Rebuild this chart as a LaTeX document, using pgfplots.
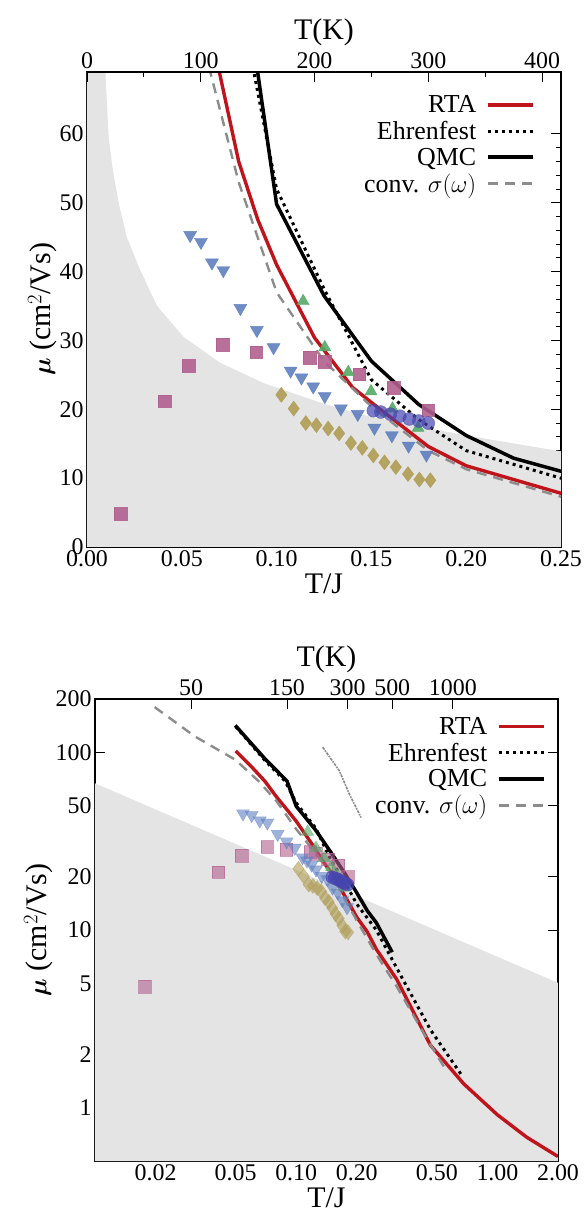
\documentclass[border=0pt]{standalone}
\usepackage{pgfplots}
\pgfplotsset{compat=1.18}
\usepackage{pgfplotstable}
\usepackage{fontspec}
\setmainfont{Liberation Serif}
\usepackage{bm}
\definecolor{rta}{HTML}{C0141C}
\definecolor{shade}{HTML}{E3E4E3}
\definecolor{sq}{HTML}{B0608E}
\definecolor{dtri}{HTML}{5F7FBF}
\definecolor{utri}{HTML}{55AA66}
\definecolor{dia}{HTML}{B09D55}
\definecolor{circ}{HTML}{4545B0}
\definecolor{conv}{HTML}{8C8C8C}

\pgfplotstableread{
x y
0.05 102
0.06 83
0.0698 69
0.08 56
0.09 47.6
0.1 41
0.12 30.4
0.14 23.2
0.15 21
0.18 14.6
0.2 11.8
0.225 9.8
0.25 7.8
0.316 5.27
0.464 2.25
0.68 1.36
1.0 0.91
1.4 0.68
2.0 0.53
}\rta
\pgfplotstableread{
x y
0.05 140
0.07 90
0.088 69
0.1 52
0.125 37.5
0.15 24.3
0.175 18.5
0.2 14
0.25 10
0.316 6.1
0.464 2.75
0.67 1.5
}\ehr
\pgfplotstableread{
x y
0.0498 142
0.07 92
0.09 69
0.1 49.8
0.125 36.5
0.15 27
0.175 20.7
0.2 16.2
0.225 12.9
0.25 11
0.3 7.5
}\qmc
\pgfplotstableread{
x y
0.0198 180
0.0314 123
0.0498 91
0.065 69
0.08 53
0.1 37
0.125 27
0.15 20.4
0.18 14
0.2 11.3
0.25 7.3
0.316 4.8
0.45 2.4
0.56 1.6
}\conv
\pgfplotstableread{
x y
0.1355 107
0.164 78.7
0.184 58
0.21 43
}\convb
\pgfplotstableread{
x y
0.0177 4.8
0.041 21.2
0.0535 26.3
0.0716 29.4
0.0892 28.3
0.1175 27.5
0.1254 26.9
0.1436 25.1
0.1617 23.1
0.1799 19.9
}\sqd
\pgfplotstableread{
x y
0.0544 45.3
0.0601 44.3
0.0659 41.3
0.0719 40.2
0.0809 34.7
0.0896 31.5
0.0984 29
0.1074 25.6
0.1131 24.6
0.1193 23.3
0.1254 21.9
0.1339 20.1
0.1428 19.3
0.1516 17.3
0.1608 16.2
0.1696 14.7
0.179 13.4
}\dtd
\pgfplotstableread{
x y
0.114 35.7
0.1254 29
0.1378 25.4
0.1498 22.6
0.1611 20.1
0.1746 17.3
}\utd
\pgfplotstableread{
x y
0.151 19.8
0.155 19.6
0.16 19.3
0.165 19.0
0.17 18.6
0.175 18.3
0.18 18.0
}\cid
\pgfplotstableread{
x y
0.1025 22.1
0.109 20.1
0.1154 18
0.121 17.7
0.1272 17.2
0.133 16.5
0.1392 15.1
0.1452 14.4
0.151 13.3
0.1569 12.3
0.1629 11.6
0.1693 10.6
0.1753 9.8
0.1811 9.7
}\did

\newcommand{\tickfont}{\fontsize{24}{24}\selectfont}
\newcommand{\labfont}{\fontsize{30}{30}\selectfont}
\newcommand{\legfont}{\fontsize{26}{26}\selectfont}

\pgfplotsset{
  base/.style={scale only axis, axis line style={line width=1.4bp},
    tick style={line width=1bp, black}, major tick length=10bp, minor tick length=5bp,
    ticklabel style={font=\tickfont}, label style={font=\labfont},
    clip=true},
  mylegend/.style={legend style={draw=none, fill=none, font=\legfont, inner sep=0pt, row sep=3bp,
      /tikz/every odd column/.append style={column sep=8bp}},
    legend cell align=right, legend plot pos=right,
    legend image code/.code={\draw[##1] (0bp,0bp) -- (45bp,0bp);}},
  sqm/.style={only marks, mark=square*, mark size=6.3bp, color=sq, opacity=#1, forget plot},
  dtm/.style={only marks, mark=triangle*, mark options={rotate=180}, mark size=7.5bp, color=dtri, opacity=#1, forget plot},
  utm/.style={only marks, mark=triangle*, mark size=7bp, color=utri, opacity=#1, forget plot},
  cim/.style={only marks, mark=*, mark size=6.5bp, color=circ, opacity=0.7, forget plot},
  dim/.style={only marks, mark=diamond*, mark size=7.5bp, color=dia, opacity=#1, forget plot},
  rtal/.style={color=rta, line width=3.4bp},
  ehrl/.style={black, line width=3bp, dash pattern=on 3bp off 4bp},
  qmcl/.style={black, line width=3.5bp},
  convl/.style={conv, line width=2.4bp, dash pattern=on 10bp off 7bp},
}

\begin{document}
\begin{tikzpicture}
\useasboundingbox (-87bp,-680bp) rectangle (500bp,547bp);
% ---------- top panel ----------
\begin{axis}[base, mylegend, width=474bp, height=475bp,
  xmin=0, xmax=0.25, ymin=0, ymax=69,
  xtick={0,0.05,0.1,0.15,0.2,0.25}, xticklabels={0.00,0.05,0.10,0.15,0.20,0.25},
  minor x tick num=4, xtick pos=bottom,
  ytick={0,10,20,30,40,50,60}, yticklabels={0,10,20,30,40,50,60}, minor y tick num=4,
  ytick pos=both,
  xlabel={T/J}, ylabel={{\boldmath$\mu$} (cm$^2$/Vs)}, ylabel style={yshift=-4bp},
  legend style={at={(0.945,0.955)}, anchor=north east}]
\addplot[fill=shade, draw=none, forget plot] coordinates {(0,69)(0.0097,69)(0.0114,59.6)(0.0135,55)(0.0167,50)(0.021,45)(0.0281,40.2)(0.037,35)(0.051,30.5)(0.07,26.8)(0.0932,23.8)(0.125,20.8)(0.15,18.9)(0.2,16.2)(0.25,13.9)(0.25,0)(0,0)} -- cycle;
\addplot[sqm=0.9] table {\sqd};
\addplot[dtm=0.9] table {\dtd};
\addplot[utm=0.9] table {\utd};
\addplot[dim=0.9] table {\did};
\addplot[cim] table {\cid};
\addplot[rtal] table {\rta}; \addlegendentry{RTA}
\addplot[ehrl] table {\ehr}; \addlegendentry{Ehrenfest}
\addplot[qmcl] table {\qmc}; \addlegendentry{QMC}
\addplot[convl] table {\conv}; \addlegendentry{conv. $\sigma(\omega)$}
\end{axis}
\begin{axis}[base, width=474bp, height=475bp, xmin=0, xmax=416.667, ymin=0, ymax=1,
  axis x line*=top, axis y line=none, xtick={0,100,200,300,400}, xticklabels={0,100,200,300,400},
  minor x tick num=1, xlabel={T(K)}]
\end{axis}
% ---------- bottom panel ----------
\begin{axis}[base, mylegend, at={(8bp,-614bp)}, width=463bp, height=462bp,
  xmode=log, ymode=log, xmin=0.01, xmax=2, ymin=0.5, ymax=200,
  xtick={0.02,0.05,0.1,0.2,0.5,1,2}, xticklabels={0.02,0.05,0.10,0.20,0.50,1.00,2.00},
  ytick={1,2,5,10,20,50,100,200}, yticklabels={1,2,5,10,20,50,100,200},
  minor xtick={0.03,0.3}, minor ytick={},
  xtick pos=bottom, ytick pos=both,
  xlabel={T/J}, ylabel={{\boldmath$\mu$} (cm$^2$/Vs)}, ylabel style={yshift=-4bp},
  legend style={at={(0.974,0.965)}, anchor=north east}]
\addplot[fill=shade, draw=none, forget plot] coordinates {(0.01,67)(2,5.04)(2,0.5)(0.01,0.5)} -- cycle;
\addplot[sqm=0.6] table {\sqd};
\addplot[dtm=0.6] table {\dtd};
\addplot[utm=0.6] table {\utd};
\addplot[dim=0.6] table {\did};
\addplot[cim] table {\cid};
\addplot[conv, line width=1.6bp, densely dashdotted, forget plot] table {\convb};
\addplot[rtal] table {\rta}; \addlegendentry{RTA}
\addplot[ehrl] table {\ehr}; \addlegendentry{Ehrenfest}
\addplot[qmcl] table {\qmc}; \addlegendentry{QMC}
\addplot[convl] table {\conv}; \addlegendentry{conv. $\sigma(\omega)$}
\end{axis}
\begin{axis}[base, at={(8bp,-614bp)}, width=463bp, height=462bp, xmode=log,
  xmin=16.667, xmax=3333.33, ymin=0, ymax=1,
  axis x line*=top, axis y line=none, xtick={50,150,300,500,1000}, xticklabels={50,150,300,500,1000},
  minor xtick={}, xlabel={T(K)}]
\end{axis}
\end{tikzpicture}
\end{document}
